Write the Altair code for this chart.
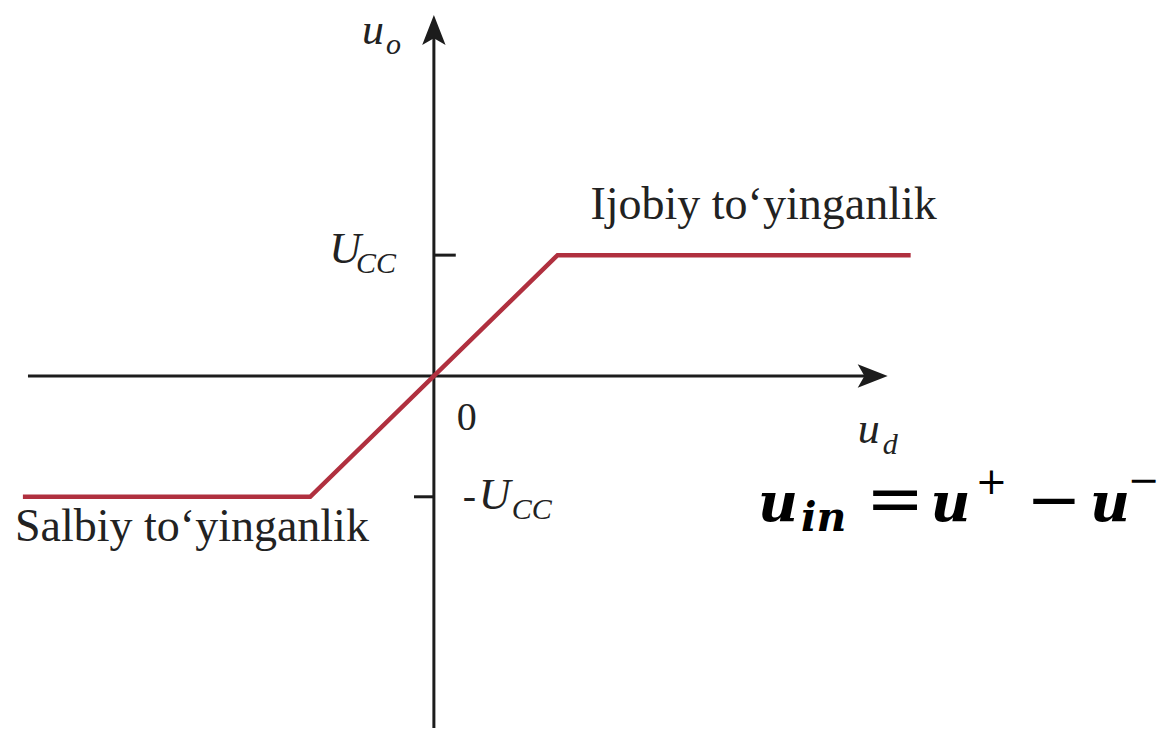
import altair as alt
import pandas as pd

# ---- data (units: x in saturation units, y in U_CC units) ----
X_DOMAIN = [-3.4435, 5.8468]
Y_DOMAIN = [-2.9136, 3.0288]

curve_x = [-3.323, -1.0, 1.0, 3.855]
curve_y = [-1.0, -1.0, 1.0, 1.0]

# axis lines and ticks: (x, x2, y, y2)
seg_x = [-3.282, 0.0, 0.0, -0.161]
seg_x2 = [3.56, 0.0, 0.177, 0.0]
seg_y = [0.0, -2.914, 1.0, -1.0]
seg_y2 = [0.0, 2.86, 1.0, -1.0]

arrow_x = [3.548, 0.0]
arrow_y = [0.0, 2.864]
arrow_angle = [0, 270]

label_text = ["Ijobiy to\u2018yinganlik", "Salbiy to\u2018yinganlik", "0", "-",
              "U", "U", "u", "u",
              "CC", "CC", "o", "d",
              "u", "u", "u",
              "in",
              "=", "\u2212",
              "+", "\u2212"]
label_x = [1.266, -3.387, 0.185, 0.234,
           -0.847, 0.363, -0.581, 3.427,
           -0.629, 0.629, -0.387, 3.629,
           2.621, 4.016, 5.306,
           2.968,
           3.492, 4.790,
           4.379, 5.610]
label_y = [1.300, -1.366, -0.444, -1.103,
           0.938, -1.103, 2.749, -0.551,
           0.848, -1.185, 2.667, -0.650,
           -1.202, -1.202, -1.202,
           -1.284,
           -1.210, -1.210,
           -0.979, -0.971]
label_kind = ["serif", "serif", "zero", "zero",
              "ital", "ital", "ital", "ital",
              "sub", "sub", "sub", "sub",
              "fmain", "fmain", "fmain",
              "fsub",
              "feq", "fop",
              "fsup", "fsup"]

curve = pd.DataFrame({"x": curve_x, "y": curve_y})
segs = pd.DataFrame({"x": seg_x, "x2": seg_x2, "y": seg_y, "y2": seg_y2})
arrows = pd.DataFrame({"x": arrow_x, "y": arrow_y, "a": arrow_angle})
labels = pd.DataFrame({"t": label_text, "x": label_x, "y": label_y, "k": label_kind})

xs = alt.Scale(domain=X_DOMAIN, nice=False, zero=False)
ys = alt.Scale(domain=Y_DOMAIN, nice=False, zero=False)
X = lambda f="x": alt.X(f + ":Q", scale=xs, axis=None)
Y = lambda f="y": alt.Y(f + ":Q", scale=ys, axis=None)

axis_color = "#1c1c1c"

rules = alt.Chart(segs).mark_rule(color=axis_color, strokeWidth=3).encode(
    x=X(), x2="x2:Q", y=Y(), y2="y2:Q")

heads = alt.Chart(arrows).mark_point(
    shape="M1,0 L-1,-0.78 L-0.55,0 L-1,0.78 Z", filled=True, size=900,
    color=axis_color, opacity=1, strokeWidth=0).encode(
    x=X(), y=Y(), angle=alt.Angle("a:Q", scale=None))

line = alt.Chart(curve).mark_line(color="#B0303F", strokeWidth=4.5).encode(
    x=X(), y=Y(), order=alt.Order("x:Q"))

styles = {
    "serif": dict(font="Liberation Serif", fontSize=46),
    "zero": dict(font="Liberation Serif", fontSize=40),
    "ital": dict(font="Liberation Serif", fontSize=44, fontStyle="italic"),
    "sub": dict(font="Liberation Serif", fontSize=30, fontStyle="italic"),
    "fmain": dict(font="DejaVu Serif", fontSize=55, fontStyle="italic", fontWeight="bold"),
    "fsub": dict(font="DejaVu Serif", fontSize=41, fontStyle="italic", fontWeight="bold"),
    "feq": dict(font="DejaVu Serif", fontSize=70),
    "fop": dict(font="DejaVu Serif", fontSize=66),
    "fsup": dict(font="DejaVu Serif", fontSize=38),
}

text_layers = []
for k, st in styles.items():
    col = "#000000" if k.startswith("f") else "#222222"
    text_layers.append(
        alt.Chart(labels).transform_filter(alt.datum.k == k).mark_text(
            align="left", baseline="alphabetic", color=col, **st).encode(
            x=X(), y=Y(), text="t:N"))

chart = alt.layer(rules, heads, line, *text_layers).properties(
    width=1152, height=722, padding=0,
    autosize=alt.AutoSizeParams(type="fit", contains="padding"),
    background="white",
).configure_view(stroke=None)

chart.save("out.html", embed_options={"renderer": "svg", "actions": False})
